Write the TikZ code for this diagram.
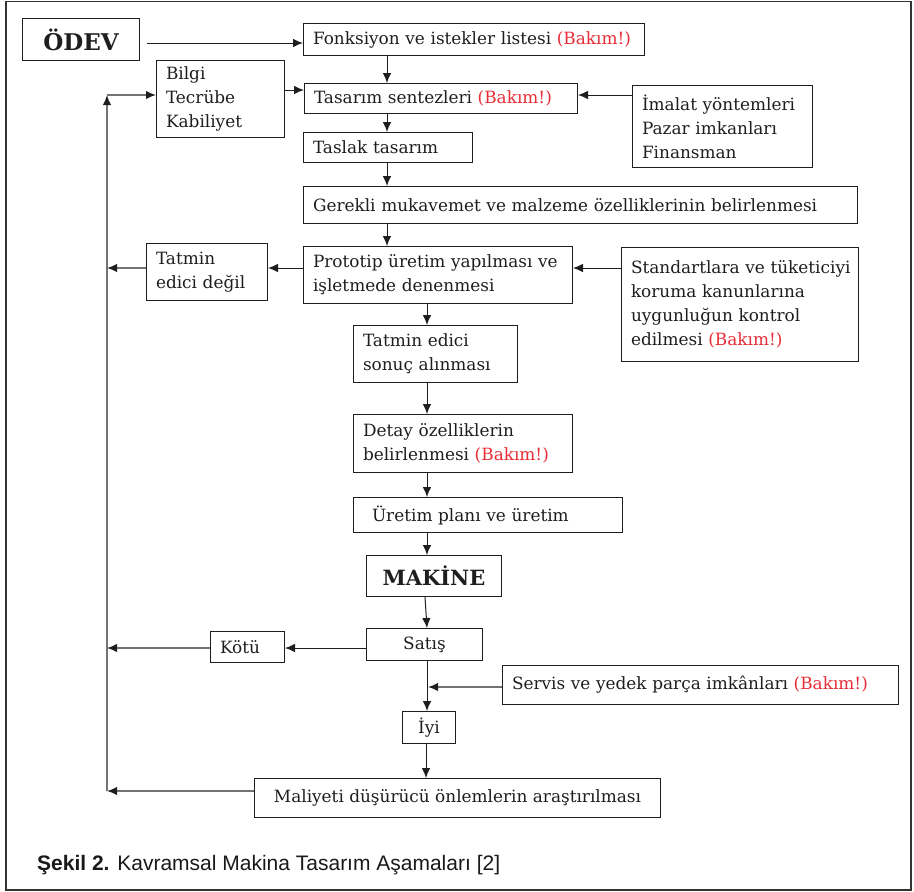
\documentclass[tikz,border=0pt]{standalone}
\usepackage{fontspec}
\setmainfont{DejaVu Serif}
\newfontfamily\capfont{Liberation Sans}
\usetikzlibrary{arrows.meta}
\definecolor{bakim}{RGB}{232,45,55}
\definecolor{ink}{RGB}{30,30,30}
\newcommand{\bakimnote}{\textcolor{bakim}{(Bakım!)}}

\begin{document}
\begin{tikzpicture}[x=1pt,y=-1pt,
  bx/.style={draw=ink, line width=1pt, rectangle, anchor=north west,
    inner xsep=9.5pt, inner ysep=0pt, align=left, text=ink,
    font=\fontsize{16.9}{24}\selectfont},
  cbx/.style={draw=ink, line width=1pt, rectangle, anchor=north west,
    inner sep=0pt, align=center, text=ink,
    font=\fontsize{16.9}{24}\selectfont},
  bigbx/.style={cbx, font=\fontsize{23}{26}\selectfont\bfseries},
  arr/.style={-{Latex[length=10pt,width=8.5pt]}, line width=1pt, draw=ink},
  fb/.style={line width=1.6pt, draw=black!55},
  fbarr/.style={fb, -{Latex[length=10pt,width=8.5pt,color=ink]}}
]
\useasboundingbox (0,0) rectangle (914,892);
\draw[line width=1.6pt, draw=black!80] (6,1.5) rectangle (911,890);

% --- boxes ---
\node[bigbx, minimum width=117pt, minimum height=42pt] (odev) at (22,18) {ÖDEV};
\node[bx, text width=322pt, minimum height=32pt] (fonk) at (303,23) {\mbox{Fonksiyon ve istekler listesi \bakimnote}};
\node[bx, text width=109pt, minimum height=77pt] (bilgi) at (156,60) {Bilgi\\Tecrübe\\Kabiliyet};
\node[bx, text width=254pt, minimum height=30pt] (sent) at (304,83) {\mbox{Tasarım sentezleri \bakimnote}};
\node[bx, text width=161pt, minimum height=82pt] (imalat) at (632,85) {\mbox{İmalat yöntemleri}\\\mbox{Pazar imkanları}\\Finansman};
\node[bx, text width=150pt, minimum height=30pt] (taslak) at (303,132) {\mbox{Taslak tasarım}};
\node[bx, text width=535pt, minimum height=37pt] (gerekli) at (303,186) {\mbox{Gerekli mukavemet ve malzeme özelliklerinin belirlenmesi}};
\node[bx, text width=102pt, minimum height=57pt] (tdegil) at (146,243) {Tatmin\\\mbox{edici değil}};
\node[bx, text width=250pt, minimum height=57pt] (proto) at (303,246) {\mbox{Prototip üretim yapılması ve}\\\mbox{işletmede denenmesi}};
\node[bx, text width=218pt, minimum height=114pt] (stand) at (621,247) {\mbox{Standartlara ve tüketiciyi}\\\mbox{koruma kanunlarına}\\\mbox{uygunluğun kontrol}\\\mbox{edilmesi \bakimnote}};
\node[bx, text width=145pt, minimum height=57pt] (tsonuc) at (353,325) {\mbox{Tatmin edici}\\\mbox{sonuç alınması}};
\node[bx, text width=200pt, minimum height=58pt] (detay) at (353,414) {\mbox{Detay özelliklerin}\\\mbox{belirlenmesi \bakimnote}};
\node[bx, text width=250pt, minimum height=35pt] (uretim) at (353,497) {\hspace*{9pt}\mbox{Üretim planı ve üretim}};
\node[bigbx, minimum width=135pt, minimum height=41pt, font=\fontsize{21}{24}\selectfont\bfseries] (makine) at (366,555) {MAKİNE};
\node[cbx, minimum width=116pt, minimum height=32pt] (satis) at (366,628) {Satış};
\node[bx, text width=55pt, minimum height=31pt] (kotu) at (210,631) {Kötü};
\node[bx, text width=377pt, minimum height=39pt] (servis) at (502,665) {\mbox{Servis ve yedek parça imkânları \bakimnote}};
\node[cbx, minimum width=53pt, minimum height=32pt] (iyi) at (402,711) {İyi};
\node[cbx, minimum width=406pt, minimum height=39pt] (maliyet) at (254,778) {Maliyeti düşürücü önlemlerin araştırılması};

% --- helper points ---
\coordinate (colA) at (387,0);
\coordinate (colB) at (427,0);
\coordinate (fbTop) at (107,95);
\coordinate (fbBot) at (107,791);

% --- main flow ---
\draw[arr] ([xshift=7pt]odev.east |- 0,43) -- (fonk.west |- 0,43);
\draw[arr] (fonk.south -| colA) -- (sent.north -| colA);
\draw[arr] (bilgi.east |- 0,90) -- (sent.west |- 0,90);
\draw[arr] (imalat.west |- 0,95) -- (sent.east |- 0,95);
\draw[arr] (sent.south -| colA) -- (taslak.north -| colA);
\draw[arr] (taslak.south -| colA) -- (gerekli.north -| colA);
\draw[arr] (gerekli.south -| colA) -- (proto.north -| colA);
\draw[arr] (proto.west |- 0,268) -- (tdegil.east |- 0,268);
\draw[arr] (stand.west |- 0,268) -- (proto.east |- 0,268);
\draw[arr] (proto.south -| colB) -- (tsonuc.north -| colB);
\draw[arr] (tsonuc.south -| colB) -- (detay.north -| colB);
\draw[arr] (detay.south -| colB) -- (uretim.north -| colB);
\draw[arr] (uretim.south -| colB) -- (makine.north -| colB);
\draw[arr] (425,0 |- makine.south) -- (satis.north -| colB);
\draw[arr] (satis.west |- 0,648) -- (kotu.east |- 0,648);
\draw[arr] (satis.south -| colB) -- (iyi.north -| colB);
\draw[fbarr] (servis.west |- 0,687) -- (428,687);
\draw[arr] (iyi.south -| 426,0) -- (maliyet.north -| 426,0);

% --- feedback loop ---
\draw[fbarr] (tdegil.west |- 0,268) -- (107,268);
\draw[fbarr] (kotu.west |- 0,648) -- (107,648);
\draw[fbarr] (maliyet.west |- fbBot) -- (fbBot);
\draw[fbarr] (fbBot) -- (fbTop);
\draw[fbarr] (fbTop) -- (bilgi.west |- fbTop);

% --- caption ---
\node[anchor=base west, inner sep=0pt, text=black!90,
  font=\capfont\fontsize{21}{24}\selectfont] (caption) at (37,870)
  {\textbf{Şekil 2.} Kavramsal Makina Tasarım Aşamaları [2]};
\end{tikzpicture}
\end{document}
